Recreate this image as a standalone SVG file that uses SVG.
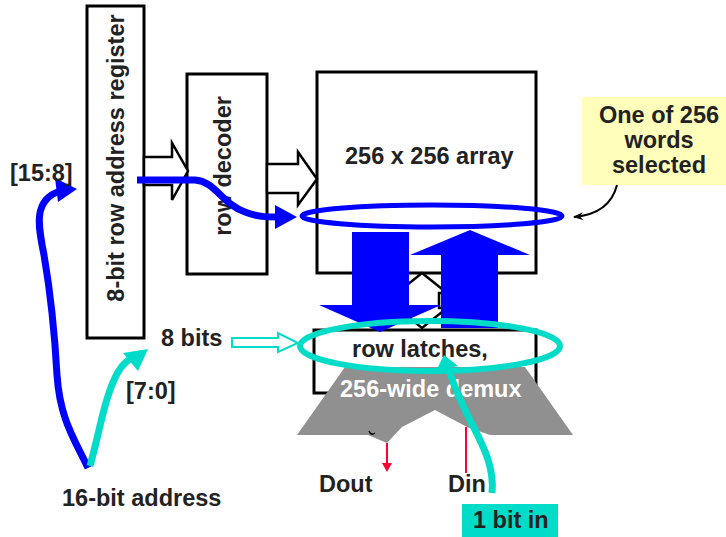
<svg xmlns="http://www.w3.org/2000/svg" width="726" height="537" viewBox="0 0 726 537">
<style>
.box{fill:#fff;stroke:#000;stroke-width:3}
.hollow{fill:#fff;stroke:#000;stroke-width:2.5;stroke-linejoin:miter}
.t{font-family:"Liberation Sans",Arial,sans-serif;font-weight:bold;font-size:23.5px;fill:#222}
.blue{fill:none;stroke:#0000ff;stroke-linecap:butt}
.teal{fill:none;stroke:#00dcc8}
</style>
<defs>
<marker id="blk" markerWidth="10" markerHeight="10" refX="9" refY="5" orient="auto" markerUnits="userSpaceOnUse">
<path d="M0,1 L10,5 L0,9 L3,5 Z" fill="#000"/>
</marker>
</defs>
<rect width="726" height="537" fill="#fff"/>

<g id="register">
<rect class="box" x="87" y="6" width="57" height="332"/>
<text class="t" transform="translate(124,158) rotate(-90)" text-anchor="middle">8-bit row address register</text>
</g>
<g id="decoder">
<rect class="box" x="187" y="74" width="80" height="200"/>
<text class="t" transform="translate(231,166) rotate(-90)" text-anchor="middle">row decoder</text>
</g>
<g id="array">
<rect class="box" x="317" y="72" width="219" height="201"/>
<text class="t" x="345" y="164">256 x 256 array</text>
</g>
<g id="note">
<rect x="582" y="97" width="144" height="88" fill="#ffffbb"/>
<text class="t" x="659" y="123" text-anchor="middle">One of 256</text>
<text class="t" x="659" y="148" text-anchor="middle">words</text>
<text class="t" x="659" y="173" text-anchor="middle">selected</text>
</g>

<g id="latches">
<polygon class="hollow" points="422,273 447,293 439,293 439,308 447,308 422,328 397,308 405,308 405,293 397,293"/>
<rect class="box" x="314" y="330" width="222" height="63"/>
</g>
<g id="demux">
<polygon fill="#909090" points="345,367 525,367 573,435 490,435 467,427 435,410 402,427 387,443 368,435 297,435"/>
<path d="M369,431 q2,5 6,2" fill="none" stroke="#000" stroke-width="1.5"/>
<text class="t" x="352" y="357">row latches,</text>
<text class="t" x="340" y="397" fill="#fff" style="fill:#fff">256-wide demux</text>
</g>

<g id="connectors">
<polygon class="hollow" points="144,157 172,157 172,143 188,171 172,200 172,185 144,185"/>
<polygon class="hollow" points="267,164 298,164 298,152 317,179 298,205 298,193 267,193"/>
<line x1="387" y1="443" x2="387" y2="464" stroke="#ff0033" stroke-width="2"/>
<polygon points="382,463 392,463 387,472" fill="#ff0033"/>
<line x1="466" y1="427" x2="466" y2="473" stroke="#ff0033" stroke-width="2"/>
<polygon fill="#0000ff" points="352,232 409,232 409,305 441,305 380,332 319,305 352,305"/>
<polygon fill="#0000ff" points="441,328 498,328 498,255 530,255 470,230 410,255 441,255"/>
<ellipse class="blue" cx="432" cy="216" rx="130" ry="11" stroke-width="5"/>
<ellipse class="teal" cx="430" cy="346" rx="130" ry="25" stroke-width="6"/>
<path class="blue" d="M137,180 L195,180 C215,181 222,204 245,212 C258,217 266,217 278,217" stroke-width="7"/>
<polygon fill="#0000ff" points="297,217 275,205 275,229"/>
<path class="blue" d="M88,468 C75,440 60,420 57,375 C54,320 50,290 44,255 C38,225 33,200 60,191" stroke-width="7"/>
<polygon fill="#0000ff" points="77,189 55,178 58,202"/>
<path class="teal" d="M90,466 C100,430 105,395 118,372 C124,362 130,358 136,356" stroke-width="7"/>
<polygon fill="#00dcc8" points="148,349 123,353 138,371"/>
<polygon points="232,338 278,338 278,333 298,343 278,352 278,347 232,347" fill="#fff" stroke="#00dcc8" stroke-width="2"/>
<path class="teal" d="M492,493 C495,465 480,440 470,420 C460,400 453,385 449,369" stroke-width="7"/>
<polygon fill="#00dcc8" points="444,355 436,371 458,366"/>
<path d="M617,185 C612,205 597,215 574,217" fill="none" stroke="#000" stroke-width="2" marker-end="url(#blk)"/>
</g>

<g id="labels">
<text class="t" x="10" y="181">[15:8]</text>
<text class="t" x="126" y="399">[7:0]</text>
<text class="t" x="161" y="346">8 bits</text>
<text class="t" x="62" y="506">16-bit address</text>
<text class="t" x="319" y="492">Dout</text>
<text class="t" x="448" y="492">Din</text>
<rect x="462" y="504" width="96" height="33" fill="#00dcc8"/>
<text class="t" x="473" y="528">1 bit in</text>
</g>
</svg>
